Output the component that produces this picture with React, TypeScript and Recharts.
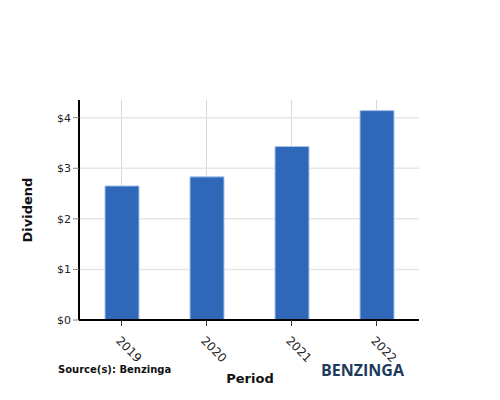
import React from "react"
import {
  BarChart,
  Bar,
  XAxis,
  YAxis,
  CartesianGrid,
} from "recharts"

const periods = ["2019", "2020", "2021", "2022"]
const dividends = [2.65, 2.83, 3.43, 4.14]
const yTicks = [0, 1, 2, 3, 4]

const data = periods.map((period, i) => ({ period, dividend: dividends[i] }))

const FONT = "'DejaVu Sans', sans-serif"

function XTick(props: any) {
  const { x, y, payload } = props
  return (
    <g transform={`translate(${x},${y})`}>
      <text
        x={0}
        y={0}
        transform="rotate(45) translate(5,14)"
        textAnchor="start"
        fontSize={12}
        fontFamily={FONT}
        fill="#222"
      >
        {payload.value}
      </text>
    </g>
  )
}

export default function App() {
  return (
    <div style={{ position: "absolute", left: 0, top: 0, width: 500, height: 400, background: "#fff" }}>
      <BarChart
        width={500}
        height={400}
        data={data}
        margin={{ top: 100, right: 81, left: 30, bottom: 30 }}
      >
        <CartesianGrid stroke="#d9d9d9" strokeWidth={1} horizontal={false} syncWithTicks />
        <CartesianGrid stroke="#e6e6e6" strokeWidth={1.5} vertical={false} syncWithTicks />
        <XAxis
          dataKey="period"
          height={50}
          axisLine={{ stroke: "#000", strokeWidth: 2 }}
          tickLine={{ stroke: "#333" }}
          tickSize={6}
          tick={<XTick />}
          interval={0}
        />
        <YAxis
          width={49}
          domain={[0, 4.35]}
          ticks={yTicks}
          tickFormatter={(v) => `$${v}`}
          axisLine={{ stroke: "#000", strokeWidth: 2 }}
          tickLine={{ stroke: "#888" }}
          tickSize={6}
          tick={{ fontSize: 11, fontFamily: FONT, fill: "#222" }}
        />
        <Bar
          dataKey="dividend"
          fill="#2f67b9"
          stroke="#a9c4ea"
          strokeWidth={1}
          barSize={34}
          isAnimationActive={false}
        />
      </BarChart>
      <div
        style={{
          position: "absolute",
          left: 27,
          top: 210,
          transform: "translate(-50%, -50%) rotate(-90deg)",
          fontFamily: FONT,
          fontWeight: "bold",
          fontSize: 13,
          color: "#111",
          whiteSpace: "nowrap",
        }}
      >
        Dividend
      </div>
      <div
        style={{
          position: "absolute",
          left: 250,
          top: 378,
          transform: "translate(-50%, -50%)",
          fontFamily: FONT,
          fontWeight: "bold",
          fontSize: 13,
          color: "#111",
          whiteSpace: "nowrap",
        }}
      >
        Period
      </div>
      <div
        style={{
          position: "absolute",
          left: 58,
          top: 369,
          transform: "translateY(-50%)",
          fontFamily: FONT,
          fontWeight: "bold",
          fontSize: 10,
          color: "#111",
          whiteSpace: "nowrap",
        }}
      >
        Source(s): Benzinga
      </div>
      <div
        style={{
          position: "absolute",
          left: 321,
          top: 370,
          transform: "translateY(-50%)",
          fontFamily: "'Open Sans', sans-serif",
          fontWeight: 700,
          fontSize: 16,
          color: "#1b3a5c",
          whiteSpace: "nowrap",
        }}
      >
        BENZINGA
      </div>
    </div>
  )
}
